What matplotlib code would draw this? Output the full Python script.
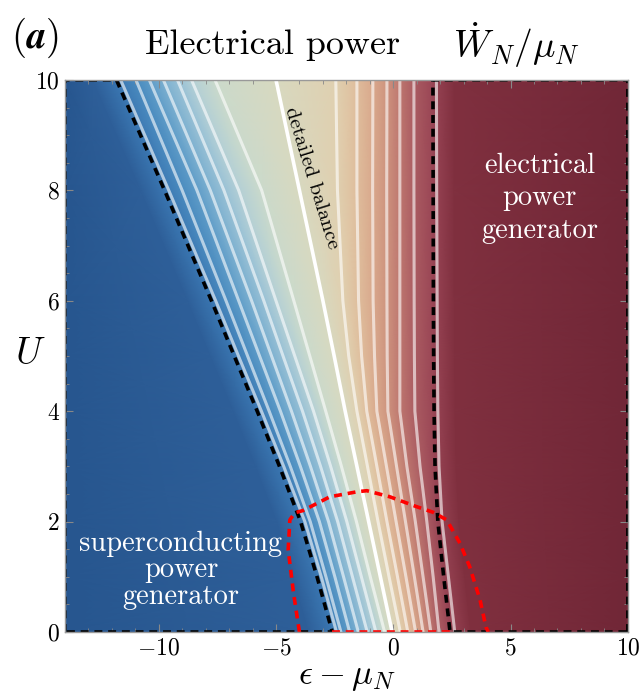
import numpy as np
import matplotlib
matplotlib.use("Agg")
import matplotlib.pyplot as plt
from matplotlib.colors import LinearSegmentedColormap, Normalize

plt.rcParams['font.family'] = 'serif'
plt.rcParams['font.serif'] = ['cmr10']
plt.rcParams['mathtext.fontset'] = 'cm'
plt.rcParams['axes.formatter.use_mathtext'] = True

# rows of U where the line positions were read
U_rows = [0, 1, 2, 3, 4, 5, 6, 8, 10]

# black dashed boundaries (region limits)
L_bound = [-2.6, -3.25, -3.95, -4.85, -5.8, -6.78, -7.75, -9.75, -11.8]
R_bound = [2.42, 2.15, 1.9, 1.78, 1.74, 1.72, 1.71, 1.70, 1.69]

# detailed balance line
zero_line = [-0.05, -0.55, -1.05, -1.55, -2.05, -2.52, -3.0, -4.0, -5.0]

# white contour lines, levels -6/7 ... -1/7
left_lines = [
    [-2.23, -1.86, -1.49, -1.11, -0.74, -0.37],
    [-2.87, -2.49, -2.12, -1.74, -1.36, -0.98],
    [-3.54, -3.15, -2.76, -2.37, -1.98, -1.57],
    [-4.39, -3.96, -3.53, -3.10, -2.67, -2.21],
    [-5.29, -4.81, -4.34, -3.87, -3.40, -2.88],
    [-6.21, -5.70, -5.19, -4.70, -4.20, -3.56],
    [-7.13, -6.59, -6.04, -5.52, -5.00, -4.24],
    [-9.00, -8.37, -7.80, -7.22, -6.59, -5.61],
    [-10.97, -10.40, -9.80, -9.20, -8.60, -7.60],
]
# levels 1/7 ... 6/7
right_lines = [
    [0.30, 0.62, 0.95, 1.27, 1.60, 1.95],
    [-0.18, 0.18, 0.54, 0.90, 1.27, 1.70],
    [-0.65, -0.27, 0.12, 0.52, 0.94, 1.43],
    [-1.10, -0.70, -0.29, 0.14, 0.58, 1.14],
    [-1.55, -1.13, -0.70, -0.23, 0.28, 0.92],
    [-1.90, -1.35, -0.80, -0.26, 0.28, 0.90],
    [-2.15, -1.48, -0.86, -0.27, 0.28, 0.89],
    [-2.38, -1.55, -0.88, -0.28, 0.28, 0.88],
    [-2.45, -1.55, -0.87, -0.27, 0.28, 0.88],
]
# outermost white lines (level +-1) next to the black dashes
left_edge_line = [-2.42, -3.07, -3.77, -4.67, -5.62, -6.6, -7.57, -9.57, -11.62]
right_edge_line = [2.62, 2.35, 2.08, 1.95, 1.90, 1.88, 1.87, 1.85, 1.84]

# shading columns inside the saturated regions
left_shade = [-3.6, -4.25, -4.95, -5.85, -6.8, -7.78, -8.75, -10.75, -12.8]
right_shade = [3.3, 3.05, 2.8, 2.68, 2.64, 2.62, 2.61, 2.6, 2.59]

# red dashed region
red_eps = [-4.0, -4.25, -4.48, -4.41, -4.2, -3.85, -2.7, -1.55, -1.13, -0.15,
           1.0, 1.69, 2.28, 2.84, 3.26, 3.7, 3.95, 4.05]
red_U = [0.0, 0.7, 1.49, 2.03, 2.16, 2.2, 2.45, 2.54, 2.56, 2.45,
         2.27, 2.17, 2.03, 1.61, 1.18, 0.58, 0.09, 0.0]

eps_min, eps_max = -14, 10
U_min, U_max = 0, 10

# colour scale (value -> colour)
cmap_vals = [-1.6, -1.25, -1.0, -6/7, -5/7, -4/7, -3/7, -2/7, -1/7, 0,
             1/7, 2/7, 3/7, 4/7, 5/7, 6/7, 1.0, 1.25, 1.6]
cmap_cols = ['#27568f', '#2e5f99', '#3a76b1', '#4a8bbf', '#5f9dc8', '#7cb0d0',
             '#98c1d5', '#b2cfd6', '#cbdacb', '#d8d9c1', '#e0d0b0', '#dfbd9c',
             '#d9a98c', '#ce937e', '#bf7870', '#ab5c62', '#9a4656', '#80303f',
             '#712737']

vmin, vmax = cmap_vals[0], cmap_vals[-1]
cmap = LinearSegmentedColormap.from_list(
    'wn', [((v - vmin) / (vmax - vmin), c) for v, c in zip(cmap_vals, cmap_cols)])

# curvilinear mesh: every column is one level
n = len(U_rows)
X = np.column_stack([np.full(n, eps_min), left_shade, L_bound,
                     np.array(left_lines), zero_line, np.array(right_lines),
                     R_bound, right_shade, np.full(n, eps_max)])
Y = np.tile(np.array(U_rows, dtype=float)[:, None], (1, X.shape[1]))
C = np.tile(np.array(cmap_vals)[None, :], (n, 1))

fig = plt.figure(figsize=(6.42, 6.95), dpi=100)
ax = fig.add_axes([0.101, 0.0906, 0.877, 0.7944])

ax.pcolormesh(X, Y, C, shading='gouraud', cmap=cmap,
              norm=Normalize(vmin, vmax), rasterized=True)

# white contour lines
for j in range(6):
    ax.plot(np.array(left_lines)[:, j], U_rows, color='white', lw=2.2, alpha=0.6)
    ax.plot(np.array(right_lines)[:, j], U_rows, color='white', lw=2.2, alpha=0.6)
ax.plot(left_edge_line, U_rows, color='white', lw=2.2, alpha=0.6)
ax.plot(right_edge_line, U_rows, color='white', lw=2.2, alpha=0.6)
ax.plot(zero_line, U_rows, color='white', lw=2.6)

# black dashed region boundaries
left_x = [eps_min, eps_min] + L_bound[::-1] + [eps_min]
left_y = [U_min, U_max] + U_rows[::-1] + [U_min]
ax.plot(left_x, left_y, color='black', lw=2.6, ls=(0, (2.2, 1.6)))
right_x = [eps_max, eps_max] + R_bound[::-1] + [eps_max]
right_y = [U_min, U_max] + U_rows[::-1] + [U_min]
ax.plot(right_x, right_y, color='black', lw=2.6, ls=(0, (2.2, 1.6)))

# red dashed region
ax.plot(red_eps, red_U, color='red', lw=2.6, ls=(0, (2.2, 1.6)))
ax.plot([L_bound[0], R_bound[0]], [U_min, U_min], color='red', lw=2.6,
        ls=(0, (2.2, 1.6)))

ax.set_xlim(eps_min, eps_max)
ax.set_ylim(U_min, U_max)
ax.set_xticks([-10, -5, 0, 5, 10])
ax.set_yticks([0, 2, 4, 6, 8, 10])
ax.set_xticks(np.arange(-14, 11, 1), minor=True)
ax.set_yticks(np.arange(0, 10.1, 0.5), minor=True)
ax.tick_params(which='both', direction='in', top=True, right=True,
               color='#888888', labelsize=17)
ax.tick_params(which='major', length=6, width=0.8)
ax.tick_params(which='minor', length=3, width=0.6)
for s in ax.spines.values():
    s.set_color('#999999')
    s.set_linewidth(1.0)

ax.set_xlabel(r'$\epsilon - \mu_N$', fontsize=25, labelpad=2)
fig.text(0.047, 0.49, r'$U$', fontsize=27, ha='center', va='center')

ax.text(-9.05, 1.12, 'superconducting\npower\ngenerator', color='white',
        fontsize=20.5, ha='center', va='center', linespacing=1.0)
ax.text(6.25, 7.86, 'electrical\npower\ngenerator', color='white',
        fontsize=20.5, ha='center', va='center', linespacing=1.3)
ax.text(-3.47, 8.22, 'detailed balance', color='black', fontsize=15,
        ha='center', va='center', rotation=-72.8, rotation_mode='anchor')

fig.text(0.424, 0.935, 'Electrical power', fontsize=26, ha='center', va='center')
fig.text(0.805, 0.935, r'$\dot{W}_N/\mu_N$', fontsize=27, ha='center', va='center')
fig.text(0.055, 0.945, r'$(\boldsymbol{a})$', fontsize=28, ha='center', va='center')

fig.savefig('out.png', dpi=100)
